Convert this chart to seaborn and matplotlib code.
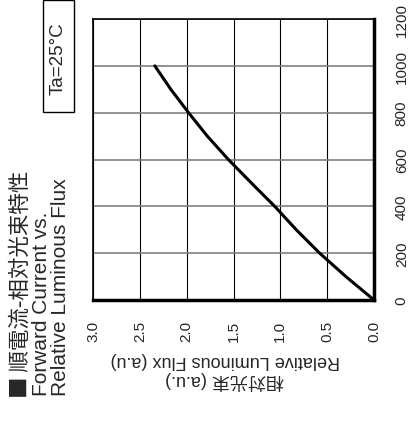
import numpy as np
import pandas as pd
import matplotlib
matplotlib.use("Agg")
import matplotlib.pyplot as plt
from matplotlib.patches import Rectangle
import seaborn as sns

# forward current (mA) vs relative luminous flux (a.u.)
current = [0, 100, 200, 300, 400, 500, 600, 700, 800, 900, 1000]
flux = [0.0, 0.30, 0.58, 0.83, 1.06, 1.31, 1.555, 1.78, 1.98, 2.17, 2.34]
current_ticks = [0, 200, 400, 600, 800, 1000, 1200]
flux_ticks = [0.0, 0.5, 1.0, 1.5, 2.0, 2.5, 3.0]

df = pd.DataFrame({"current": current, "flux": flux})

sns.set_style("white")
plt.rcParams['font.family'] = ['Liberation Sans', 'Noto Sans CJK JP']

fig = plt.figure(figsize=(4.13, 4.27), dpi=100)
ax = fig.add_axes([93 / 413, 1 - 301 / 427, 281 / 413, 281 / 427])

# chart is drawn rotated 90 deg: flux runs right->left, current bottom->top
sns.lineplot(data=df, x="flux", y="current", color="black", linewidth=2.2, ax=ax)

ax.set_xlim(3.0, 0.0)
ax.set_ylim(0, 1200)
ax.set_xticks(flux_ticks)
ax.set_xticklabels([f"{v:.1f}" for v in flux_ticks], rotation=90, fontsize=11)
ax.set_yticks(current_ticks)
ax.set_yticklabels([str(v) for v in current_ticks], rotation=90, fontsize=11, va="center")
ax.yaxis.tick_right()
ax.tick_params(axis="x", length=0, pad=14)
ax.tick_params(axis="y", length=0, pad=15)

ax.xaxis.grid(True, color="black", linewidth=0.8)
ax.yaxis.grid(True, color="#808080", linewidth=1.2)

for side in ["bottom", "right"]:
    ax.spines[side].set_linewidth(2.5)
    ax.spines[side].set_color("black")
for side in ["top", "left"]:
    ax.spines[side].set_linewidth(1.2)
    ax.spines[side].set_color("black")

ax.set_ylabel("")
ax.set_xlabel("相対光束 (a.u.)\nRelative Luminous Flux (a.u)", rotation=180,
              fontsize=13, linespacing=1.1, multialignment="center")
ax.xaxis.label.set_va("center")
ax.xaxis.set_label_coords((225 - 93) / 281, (301 - 371) / 281)

# title block on the left, reading bottom to top
fig.text(10 / 413, 1 - 398 / 427, "■ 順電流-相対光束特性",
         rotation=90, ha="left", va="bottom", fontsize=15.5,
         family=['Noto Sans CJK JP', 'DejaVu Sans'])
fig.text(32 / 413, 1 - 396 / 427, "Forward Current vs.\nRelative Luminous Flux",
         rotation=90, ha="left", va="bottom", multialignment="left",
         fontsize=15, linespacing=1.0)

fig.patches.append(Rectangle((43 / 413, 1 - 113 / 427), 31 / 413, 112 / 427,
                             transform=fig.transFigure, fill=False,
                             edgecolor="black", linewidth=1.0))
fig.text(58.5 / 413, 1 - 58.5 / 427, "Ta=25°C", rotation=90,
         ha="center", va="center", fontsize=13.5)

fig.savefig("out.png", dpi=100, facecolor="white")
